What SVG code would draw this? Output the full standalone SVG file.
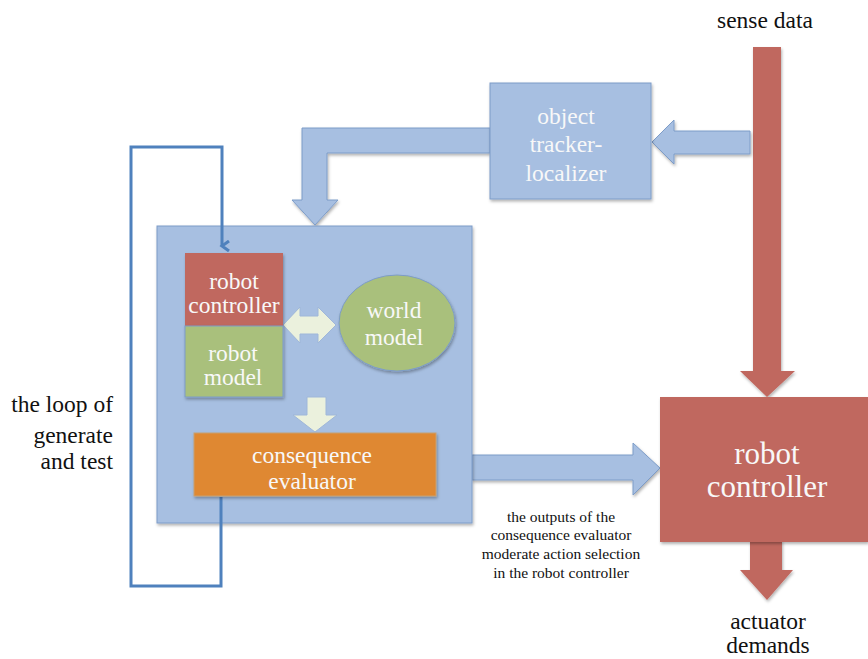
<svg xmlns="http://www.w3.org/2000/svg" width="868" height="659" viewBox="0 0 868 659">
<defs>
<filter id="sh" x="-10%" y="-10%" width="130%" height="130%">
<feDropShadow dx="1" dy="2" stdDeviation="1.5" flood-color="#000" flood-opacity="0.3"/>
</filter>
<marker id="ah" markerWidth="12" markerHeight="12" refX="6" refY="9" orient="auto" markerUnits="userSpaceOnUse" viewBox="0 0 12 12">
<path d="M1,2 L6,9 L11,2" fill="none" stroke="#4f81bd" stroke-width="3"/>
</marker>
<style>
.blue{fill:#a7bfe1;stroke:#7d9cc8;stroke-width:1}
.red{fill:#c0675f}
.green{fill:#a9c07b;stroke:#7d9cc8;stroke-width:1}
.orange{fill:#df8833;stroke:#c8a070;stroke-width:1}
.light{fill:#ebf1dd;stroke:#9fb7d9;stroke-width:1}
.wt{fill:#f8f8f8;text-anchor:middle;font-size:23.5px}
.big{font-size:31px}
.bt{fill:#111;text-anchor:middle;font-size:23.5px}
.rt{fill:#111;text-anchor:end;font-size:23.5px}
.cap{fill:#111;text-anchor:middle;font-size:15.5px}
</style>
</defs>
<rect width="868" height="659" fill="#fff"/>

<g id="connectors">
<path class="red" filter="url(#sh)" d="M753,47 H781 V371 H795 L767,397 L740,371 H753 Z"/>
<path class="blue" filter="url(#sh)" d="M750,131 V154 H674 V164 L652,142 L674,120 V131 Z"/>
<path class="blue" filter="url(#sh)" d="M490,128 V153 H327 V200 H338 L315,225 L292,200 H302 V128 Z"/>
<path class="blue" filter="url(#sh)" d="M472,455 H633 V443 L660,468 L633,495 V480 H472 Z"/>
<path class="red" filter="url(#sh)" d="M750,540 H782 V570 H793 L767,600 L740,570 H750 Z"/>
</g>

<g id="main-box">
<rect class="blue" filter="url(#sh)" x="157" y="226" width="315" height="297"/>
</g>

<g id="loop-connector">
<polyline points="221,497 221,586 131,586 131,147 222,147 222,246" fill="none" stroke="#4f81bd" stroke-width="3" marker-end="url(#ah)"/>
</g>

<g id="inner-arrows">
<path class="light" d="M283,325 L300,307 V316 H318 V307 L336,325 L318,343 V334 H300 V343 Z"/>
<path class="light" d="M307,397 H326 V415 H337 L315,432 L293,415 H307 Z"/>
</g>

<g font-family="'Liberation Serif', 'Times New Roman', 'DejaVu Serif', serif">
<g id="robot-controller-inner">
<rect class="red" filter="url(#sh)" x="185" y="253" width="98" height="73"/>
<text class="wt" x="234" y="289">robot</text>
<text class="wt" x="234" y="313">controller</text>
</g>

<g id="robot-model">
<rect class="green" filter="url(#sh)" x="185" y="326" width="98" height="71"/>
<text class="wt" x="233" y="361">robot</text>
<text class="wt" x="233" y="385">model</text>
</g>

<g id="world-model">
<ellipse class="green" filter="url(#sh)" cx="397" cy="323" rx="58" ry="48"/>
<text class="wt" x="394" y="318">world</text>
<text class="wt" x="394" y="345">model</text>
</g>

<g id="consequence-evaluator">
<rect class="orange" filter="url(#sh)" x="194" y="433" width="242" height="63"/>
<text class="wt" x="312" y="463">consequence</text>
<text class="wt" x="312" y="489">evaluator</text>
</g>

<g id="object-tracker">
<rect class="blue" filter="url(#sh)" x="490" y="83" width="161" height="116"/>
<text class="wt" x="566" y="124">object</text>
<text class="wt" x="566" y="152">tracker-</text>
<text class="wt" x="566" y="181">localizer</text>
</g>

<g id="robot-controller">
<rect class="red" filter="url(#sh)" x="660" y="397" width="208" height="145"/>
<text class="wt big" x="767" y="464">robot</text>
<text class="wt big" x="767" y="497">controller</text>
</g>

<g id="labels">
<text class="bt" x="765" y="28">sense data</text>
<text class="bt" x="768" y="629">actuator</text>
<text class="bt" x="768" y="653">demands</text>
<text class="rt" x="113" y="412">the loop of</text>
<text class="rt" x="113" y="443">generate</text>
<text class="rt" x="113" y="469">and test</text>
<text class="cap" x="561" y="522">the outputs of the</text>
<text class="cap" x="561" y="540">consequence evaluator</text>
<text class="cap" x="561" y="559">moderate action selection</text>
<text class="cap" x="561" y="578">in the robot controller</text>
</g>
</g>
</svg>
